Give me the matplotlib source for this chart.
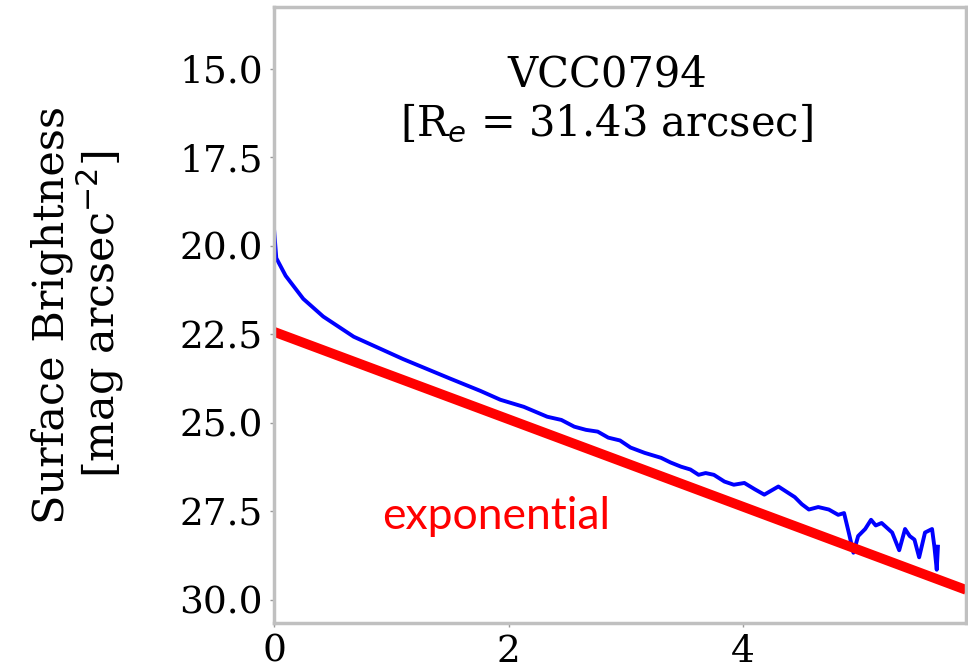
import numpy as np
import matplotlib
matplotlib.use("Agg")
from matplotlib import pyplot as plt

# surface brightness profile of VCC0794
radius = [0.0, 0.02, 0.1, 0.25, 0.42, 0.68, 1.1, 1.5, 1.76, 1.93, 2.13, 2.33, 2.45,
          2.56, 2.66, 2.76, 2.85, 2.95, 3.04, 3.16, 3.3, 3.38, 3.47, 3.55, 3.62,
          3.68, 3.75, 3.84, 3.92, 4.01, 4.1, 4.18, 4.3, 4.37, 4.44, 4.5, 4.56,
          4.64, 4.73, 4.81, 4.86, 4.9, 4.94, 4.98, 5.04, 5.09, 5.13, 5.18, 5.22,
          5.27, 5.33, 5.38, 5.42, 5.46, 5.5, 5.55, 5.61, 5.63, 5.65, 5.66]
mu = [19.5, 20.35, 20.85, 21.5, 22.0, 22.57, 23.2, 23.75, 24.1, 24.35, 24.55, 24.83,
      24.92, 25.11, 25.2, 25.25, 25.42, 25.5, 25.7, 25.85, 25.99, 26.12, 26.24,
      26.32, 26.47, 26.42, 26.47, 26.66, 26.75, 26.7, 26.88, 27.03, 26.8, 26.95,
      27.1, 27.3, 27.45, 27.38, 27.45, 27.6, 27.55, 28.1, 28.67, 28.2, 28.0,
      27.74, 27.9, 27.83, 27.95, 28.1, 28.6, 28.0, 28.2, 28.3, 28.8, 28.1, 28.0,
      28.5, 29.15, 28.5]

# exponential fit line
exp_r = [0.0, 5.9]
exp_mu = [22.43, 29.72]

yticks = [15.0, 17.5, 20.0, 22.5, 25.0, 27.5, 30.0]
xticks = [0, 2, 4]

plt.rcParams['font.family'] = 'DejaVu Serif'
fig = plt.figure(figsize=(9.68, 6.69), dpi=100)
ax = fig.add_axes([0.283, 0.069, 0.715, 0.921])

ax.plot(radius, mu, color='blue', lw=2.8)
ax.plot(exp_r, exp_mu, color='red', lw=7, solid_capstyle='butt')

ax.set_xlim(0, 5.9)
ax.set_ylim(30.65, 13.25)
ax.set_xticks(xticks)
ax.set_yticks(yticks)
ax.set_yticklabels(['%.1f' % v for v in yticks])
ax.tick_params(labelsize=27, color='#999999', length=3, width=1, pad=5)
for s in ax.spines.values():
    s.set_color('#c0c0c0')
    s.set_linewidth(2.5)

ax.set_ylabel('Surface Brightness\n[mag arcsec$^{-2}$]', fontsize=31, labelpad=38,
              linespacing=1.05)
ax.text(0.481, 0.85, 'VCC0794\n[R$_e$ = 31.43 arcsec]', transform=ax.transAxes,
        ha='center', va='center', fontsize=30, linespacing=1.2)
ax.text(0.92, 27.65, 'exponential', color='red', fontsize=32, family='Lato',
        va='center', ha='left')

fig.savefig('out.png', dpi=100)
